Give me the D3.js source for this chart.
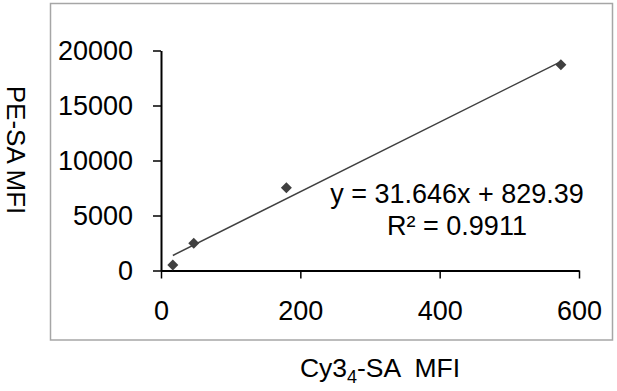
<!DOCTYPE html>
<html>
<head>
<meta charset="utf-8">
<script src="https://cdn.jsdelivr.net/npm/d3@7"></script>
<style>
  html, body { margin: 0; padding: 0; background: #fff; }
  svg { display: block; }
  text { font-family: "Liberation Sans", Arial, sans-serif; fill: #000; }
</style>
</head>
<body>
<svg id="chart" width="617" height="391"></svg>
<script>
// Data
const xValues = [17, 47, 180, 574];
const yValues = [500, 2470, 7530, 18700];
const xTicks = [0, 200, 400, 600];
const yTicks = [0, 5000, 10000, 15000, 20000];
const slope = 31.646;
const intercept = 829.39;
const equationLabel = "y = 31.646x + 829.39";
const r2Label = "R² = 0.9911";
const xTitle = ["Cy3", "4", "-SA  MFI"];
const yTitle = "PE-SA MFI";

const svg = d3.select("#chart");

// outer frame
svg.append("rect")
  .attr("x", 50.5).attr("y", 3.5)
  .attr("width", 562).attr("height", 336.5)
  .attr("fill", "#fff").attr("stroke", "#a6a6a6").attr("stroke-width", 1.5);

const x = d3.scaleLinear().domain([0, 600]).range([161, 579]);
const y = d3.scaleLinear().domain([0, 20000]).range([270.5, 50.5]);

// X axis
const gx = svg.append("g").attr("transform", `translate(0,${y(0)})`)
  .call(d3.axisBottom(x).tickValues(xTicks).tickSizeOuter(0).tickSizeInner(8).tickPadding(22).tickFormat(d3.format("d")));
// Y axis
const gy = svg.append("g").attr("transform", `translate(${x(0)},0)`)
  .call(d3.axisLeft(y).tickValues(yTicks).tickSizeOuter(0).tickSizeInner(8).tickPadding(20).tickFormat(d3.format("d")));

[gx, gy].forEach(g => {
  g.select(".domain").attr("stroke", "#000").attr("stroke-width", 2);
  g.selectAll(".tick line").attr("stroke", "#000").attr("stroke-width", 1.5);
  g.selectAll(".tick text").attr("font-size", 27).attr("fill", "#000")
    .attr("font-family", "Liberation Sans, Arial, sans-serif");
});
gy.selectAll(".tick text").attr("dy", "0.34em");

// trend line
const xMin = d3.min(xValues), xMax = d3.max(xValues);
svg.append("line")
  .attr("x1", x(xMin)).attr("y1", y(slope * xMin + intercept))
  .attr("x2", x(xMax)).attr("y2", y(slope * xMax + intercept))
  .attr("stroke", "#404040").attr("stroke-width", 1.5);

// markers (diamonds)
const pts = xValues.map((v, i) => [v, yValues[i]]);
svg.append("g").selectAll("path").data(pts).join("path")
  .attr("d", d => {
    const cx = x(d[0]), cy = y(d[1]), r = 5.5;
    return `M${cx},${cy - r}L${cx + r},${cy}L${cx},${cy + r}L${cx - r},${cy}Z`;
  })
  .attr("fill", "#404040");

// equation
svg.append("text").attr("x", 457).attr("y", 203).attr("text-anchor", "middle")
  .attr("font-size", 27).text(equationLabel);
svg.append("text").attr("x", 457).attr("y", 235).attr("text-anchor", "middle")
  .attr("font-size", 27).text(r2Label);

// x title
const xt = svg.append("text").attr("x", 380).attr("y", 377).attr("text-anchor", "middle")
  .attr("font-size", 26.5).attr("xml:space", "preserve");
xt.append("tspan").text(xTitle[0]);
xt.append("tspan").attr("font-size", 18).attr("dy", 6).text(xTitle[1]);
xt.append("tspan").attr("dy", -6).text(xTitle[2]);

// y title
svg.append("text").attr("transform", "translate(7,150) rotate(90)")
  .attr("text-anchor", "middle").attr("font-size", 26).text(yTitle);
</script>
</body>
</html>
